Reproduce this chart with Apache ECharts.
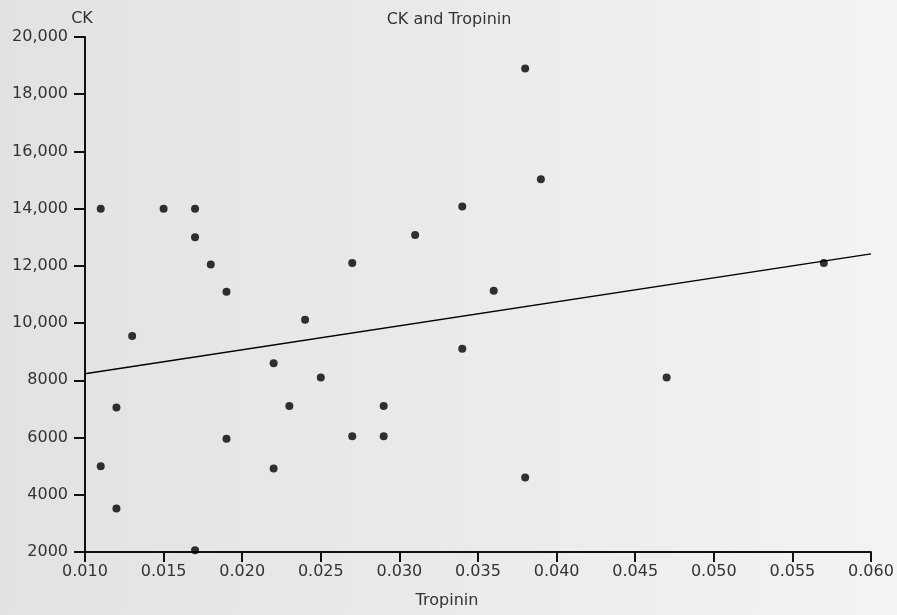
<!DOCTYPE html>
<html>
<head>
<meta charset="utf-8">
<script src="https://cdn.jsdelivr.net/npm/echarts@6/dist/echarts.min.js"></script>
<style>
  html, body { margin: 0; padding: 0; }
  #chart { width: 897px; height: 615px; }
</style>
</head>
<body>
<div id="chart"></div>
<script>
// Tropinin (x) vs CK (y)
var tropinin = [0.011, 0.015, 0.017, 0.017, 0.018, 0.019, 0.013, 0.011, 0.012, 0.012,
  0.017, 0.019, 0.022, 0.022, 0.023, 0.024, 0.025, 0.027, 0.027, 0.029,
  0.029, 0.031, 0.034, 0.034, 0.038, 0.039, 0.036, 0.038, 0.047, 0.057];
var ck = [14000, 14000, 14000, 13000, 12050, 11100, 9550, 5000, 7050, 3520,
  2060, 5960, 4920, 8600, 7100, 10120, 8100, 6050, 12100, 7100,
  6050, 13080, 14080, 9100, 18900, 15030, 11130, 4600, 8100, 12100];
// fitted line end points as drawn
var trendX = [0.010, 0.060];
var trendY = [8230, 12420];

var points = tropinin.map(function (x, i) { return [x, ck[i]]; });
var trend = trendX.map(function (x, i) { return [x, trendY[i]]; });

var myChart = echarts.init(document.getElementById("chart"));
var font = "DejaVu Sans, Verdana, sans-serif";
myChart.setOption({
  animation: false,
  backgroundColor: new echarts.graphic.LinearGradient(0, 0, 1, 0, [
    { offset: 0, color: "#e2e2e2" },
    { offset: 0.5, color: "#eaeaea" },
    { offset: 1, color: "#f3f3f3" },
  ]),
  title: {
    text: "CK and Tropinin",
    left: 444,
    top: 7,
    textAlign: "center",
    textStyle: { fontFamily: font, fontSize: 16, fontWeight: "normal", color: "#333" },
  },
  grid: { left: 85, right: 26, top: 37, bottom: 63 },
  xAxis: {
    type: "value",
    min: 0.01,
    max: 0.06,
    interval: 0.005,
    name: "Tropinin",
    nameLocation: "middle",
    nameGap: 41,
    nameTextStyle: { fontFamily: font, fontSize: 16, color: "#333", padding: [0, 62, 0, 0] },
    splitLine: { show: false },
    axisLine: { onZero: false, lineStyle: { color: "#111", width: 2 } },
    axisTick: { length: 10, lineStyle: { color: "#111", width: 2 } },
    axisLabel: {
      fontFamily: font,
      fontSize: 16,
      color: "#333",
      margin: 12,
      formatter: function (v) { return v.toFixed(3); },
    },
  },
  yAxis: {
    type: "value",
    min: 2000,
    max: 20000,
    interval: 2000,
    name: "CK",
    nameGap: 10,
    nameTextStyle: { fontFamily: font, fontSize: 16, color: "#333", padding: [0, 6, 0, 0] },
    splitLine: { show: false },
    axisLine: { onZero: false, lineStyle: { color: "#111", width: 2 } },
    axisTick: { length: 11, lineStyle: { color: "#111", width: 2 } },
    axisLabel: {
      fontFamily: font,
      fontSize: 16,
      color: "#333",
      margin: 17,
      formatter: function (v) {
        return v >= 10000 ? v.toLocaleString("en-US") : String(v);
      },
    },
  },
  series: [
    {
      type: "scatter",
      data: points,
      symbol: "circle",
      symbolSize: 8,
      itemStyle: { color: "#000" },
    },
    {
      type: "line",
      data: trend,
      showSymbol: false,
      symbol: "none",
      lineStyle: { color: "#000", width: 1.5 },
    },
  ],
});
</script>
</body>
</html>
